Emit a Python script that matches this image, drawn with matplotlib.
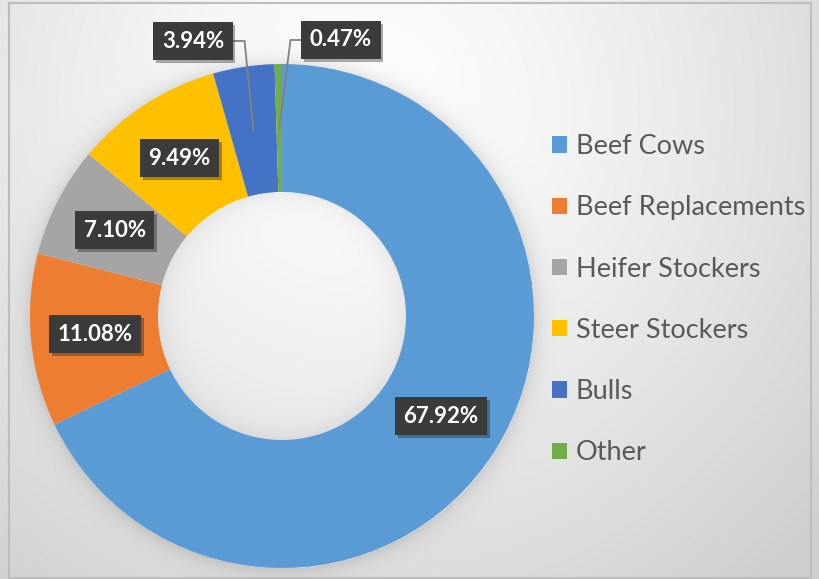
"""Donut chart: share of cattle inventory by class."""

import matplotlib.pyplot as plt
import matplotlib.patheffects as pe
import numpy as np

categories = ["Beef Cows", "Beef Replacements", "Heifer Stockers",
              "Steer Stockers", "Bulls", "Other"]
shares = [67.92, 11.08, 7.10, 9.49, 3.94, 0.47]
colors = ["#5B9BD5", "#ED7D31", "#A5A5A5", "#FFC000", "#4472C4", "#70AD47"]

W, H = 820, 579
CX, CY = 282, H - 316          # donut centre in pixel coords (y up)
R_OUT, R_IN = 252, 124

# labels that get pulled out of the ring and joined with a leader line
callouts = {"Bulls": (193, H - 41, "right"), "Other": (341, H - 40, "left")}

plt.rcParams["font.family"] = ["Lato", "DejaVu Sans"]

fig = plt.figure(figsize=(W / 100, H / 100), dpi=100)
fig.patch.set_facecolor("white")

# background panel: soft radial gradient plus a faint halo around the ring
bg = fig.add_axes([0, 0, 1, 1])
yy, xx = np.mgrid[0:H, 0:W]
dist = np.hypot(xx - 360, (H - yy) - 470)
shade = 1.0 - 0.19 * np.clip(dist / 620, 0, 1) ** 1.3
r = np.hypot(xx - CX, (H - yy) - CY)
halo = 0.10 * np.exp(-np.clip(r - R_OUT, 0, None) / 9) * (r > R_OUT)
halo += 0.06 * np.exp(-np.clip(R_IN - r, 0, None) / 12) * (r < R_IN)
shade = shade - halo
img = np.dstack([shade, shade, shade])
bg.imshow(img, extent=(0, W, 0, H), origin="upper", aspect="auto",
          interpolation="bilinear")
bg.add_patch(plt.Rectangle((9, 1), 802, H - 4, fill=False, ec="#bdbdbd", lw=1.5))
bg.set_xlim(0, W)
bg.set_ylim(0, H)
bg.axis("off")

ax = fig.add_axes([0, 0, 1, 1])
ax.patch.set_alpha(0)
wedges, _ = ax.pie(shares, colors=colors, startangle=90, counterclock=False,
                   center=(CX, CY), radius=R_OUT,
                   wedgeprops=dict(width=R_OUT - R_IN, edgecolor="none"))
ax.set_xlim(0, W)
ax.set_ylim(0, H)
ax.set_aspect("equal")
ax.axis("off")

box = dict(boxstyle="square,pad=0.38", fc="#3b3b3b", ec="none")
label_kw = dict(ha="center", va="center", color="white", fontsize=16,
                fontweight="bold", bbox=box, zorder=5)
r_mid = (R_OUT + R_IN) / 2
total = sum(shares)
cum = 0.0
leaders = []
for name, val in zip(categories, shares):
    ang = np.deg2rad(90 - 360 * (cum + val / 2) / total)
    cum += val
    ax_x = CX + r_mid * np.cos(ang)
    ax_y = CY + r_mid * np.sin(ang)
    if name in callouts:
        tx, ty, side = callouts[name]
        t = ax.text(tx, ty, f"{val:.2f}%", **label_kw)
        leaders.append((t, side, ax_x, ax_y))
    else:
        t = ax.text(ax_x, ax_y, f"{val:.2f}%", **label_kw)
    t.get_bbox_patch().set_path_effects(
        [pe.withSimplePatchShadow(offset=(2, -2), alpha=0.35), pe.Normal()])

# leader lines start at the box edge, so measure the boxes first
fig.canvas.draw()
to_data = ax.transData.inverted()
for t, side, ax_x, ax_y in leaders:
    ext = t.get_bbox_patch().get_window_extent()
    (x0, y0), (x1, y1) = to_data.transform([(ext.x0, ext.y0), (ext.x1, ext.y1)])
    ty = (y0 + y1) / 2
    if side == "right":
        xs = [x1, x1 + 12, ax_x]
    else:
        xs = [x0, x0 - 11, ax_x]
    ax.plot(xs, [ty, ty, ax_y], color="#808080", lw=1.3, zorder=4)

leg = fig.legend(wedges, categories, loc="upper left",
                 bbox_to_anchor=(552 / W, 1 - 134 / H), frameon=False,
                 fontsize=19.5, handlelength=0.55, handleheight=0.55,
                 handletextpad=0.33, labelspacing=1.34, borderaxespad=0,
                 borderpad=0)
for txt in leg.get_texts():
    txt.set_color("#595959")

fig.savefig("out.png", dpi=100)
